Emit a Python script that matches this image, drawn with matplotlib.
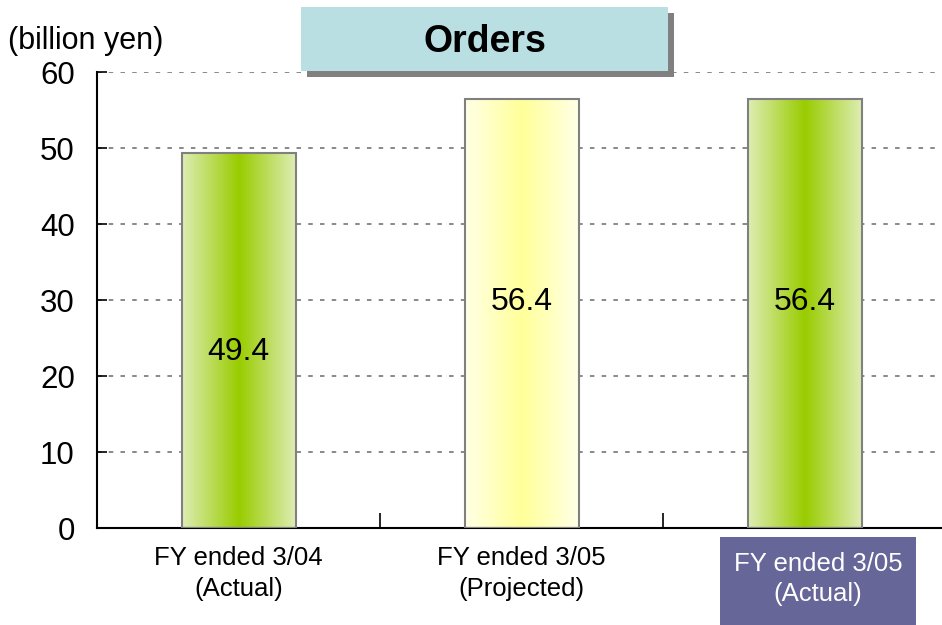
import numpy as np
import matplotlib
matplotlib.use("Agg")
import matplotlib.pyplot as plt
from matplotlib.colors import LinearSegmentedColormap
from matplotlib.patches import Rectangle

# chart data
CATEGORIES = ["FY ended 3/04\n(Actual)", "FY ended 3/05\n(Projected)", "FY ended 3/05\n(Actual)"]
VALUES = [49.4, 56.4, 56.4]
VALUE_LABELS = ["49.4", "56.4", "56.4"]
Y_TICKS = [0, 10, 20, 30, 40, 50, 60]

GREEN_EDGE = "#deedb4"
GREEN_MID = "#99cc00"
YELLOW_EDGE = "#ffffe6"
YELLOW_MID = "#ffff99"

plt.rcParams["font.family"] = ["Liberation Sans", "DejaVu Sans"]

fig = plt.figure(figsize=(9.42, 6.25), dpi=100)
ax = fig.add_axes([97 / 942, 1 - 528 / 625, 845 / 942, 456 / 625])

bar_w = 114 / 283
for i, (v, lab) in enumerate(zip(VALUES, VALUE_LABELS)):
    if i == 1:
        cmap = LinearSegmentedColormap.from_list("y", [YELLOW_EDGE, YELLOW_MID, YELLOW_EDGE])
    else:
        cmap = LinearSegmentedColormap.from_list("g", [GREEN_EDGE, GREEN_MID, GREEN_EDGE])
    grad = np.linspace(0, 1, 256)[None, :]
    ax.imshow(grad, cmap=cmap, aspect="auto", interpolation="bilinear",
              extent=(i - bar_w / 2, i + bar_w / 2, 0, v), zorder=2)
    ax.bar(i, v, width=bar_w, facecolor="none", edgecolor="#808080", linewidth=1.5, zorder=3)
    # label sits a bit below the middle for the short bar, a bit above for the tall ones
    ly = v * (0.47 if v < 50 else 0.527)
    ax.text(i, ly, lab, ha="center", va="center", fontsize=23, zorder=4)

ax.set_xlim(-0.5, -0.5 + 845 / 283)
ax.set_ylim(0, 60)
ax.set_yticks(Y_TICKS)
ax.set_yticklabels([str(t) for t in Y_TICKS], fontsize=22.5)
ax.tick_params(axis="y", direction="in", length=7, width=1.2, pad=16)

# divider ticks between categories, labels on minor ticks
ax.set_xticks([0.5, 1.5])
ax.set_xticklabels([])
ax.tick_params(axis="x", which="major", direction="in", length=11, width=1.2)
ax.set_xticks([0, 1], minor=True)
ax.set_xticklabels(CATEGORIES[:2], minor=True, fontsize=18.5, linespacing=1.35)
ax.tick_params(axis="x", which="minor", length=0, pad=13)

ax.grid(axis="y", color="#808080", linestyle=(0, (2.5, 4)), linewidth=1.3, zorder=1)
ax.set_axisbelow(True)
for s in ["top", "right"]:
    ax.spines[s].set_visible(False)
for s in ["left", "bottom"]:
    ax.spines[s].set_linewidth(1.5)

# purple box with the third category label
px, pw, ph = 720 / 942, 196 / 942, 1 - 537 / 625
fig.patches.append(Rectangle((px, 0), pw, ph, transform=fig.transFigure,
                             facecolor="#666699", edgecolor="none", zorder=-1))
fig.text(px + pw / 2, ph / 2 + 2 / 625, CATEGORIES[2], ha="center", va="center",
         color="white", fontsize=18.5, linespacing=1.35)

# title box with drop shadow
bx, by, bw, bh = 301 / 942, 1 - 71 / 625, 367 / 942, 64 / 625
fig.patches.append(Rectangle((bx + 6 / 942, by - 6 / 625), bw, bh, transform=fig.transFigure,
                             facecolor="#808080", edgecolor="none", zorder=5))
fig.patches.append(Rectangle((bx, by), bw, bh, transform=fig.transFigure,
                             facecolor="#b9dfe2", edgecolor="none", zorder=6))
fig.text(bx + bw / 2, by + bh / 2 - 3 / 625, "Orders", ha="center", va="center",
         fontsize=27, fontweight="bold", zorder=7)

fig.text(8 / 942, 1 - 41 / 625, "(billion yen)", ha="left", va="center", fontsize=22)

fig.savefig("out.png", dpi=100)
